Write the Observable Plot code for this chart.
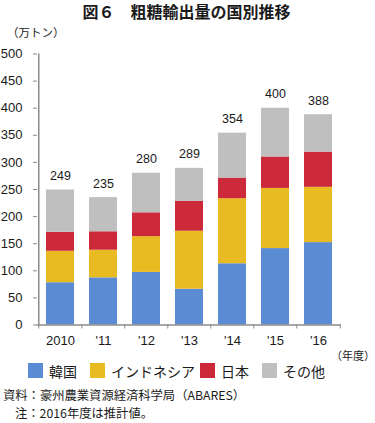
<!DOCTYPE html>
<html><head><meta charset="utf-8">
<script src="https://cdn.jsdelivr.net/npm/d3@7"></script>
<script src="https://cdn.jsdelivr.net/npm/@observablehq/plot@0.6"></script>
<style>
body{margin:0;background:#fff;}
#wrap{position:relative;width:375px;height:423px;overflow:hidden;font-family:"Noto Sans CJK JP",sans-serif;color:#1a1a1a;}
#wrap svg{position:absolute;left:0;top:0;}
.t{position:absolute;white-space:nowrap;line-height:1;}
.sw{position:absolute;width:15px;height:15px;}
</style></head><body><div id="wrap"></div>
<script>
const years = ["2010", "'11", "'12", "'13", "'14", "'15", "'16"];
const series = ["韓国", "インドネシア", "日本", "その他"];
const colors = ["#5a8bd3", "#e9bb22", "#cc2a3a", "#bfbfbf"];
const korea = [78, 87, 97, 66, 113, 141, 152];
const indonesia = [58, 51, 66, 107, 120, 111, 102];
const japan = [35, 34, 44, 55, 38, 58, 65];
const other = [78, 63, 73, 61, 83, 90, 69];
const totals = [249, 235, 280, 289, 354, 400, 388];
const yTicks = [0, 50, 100, 150, 200, 250, 300, 350, 400, 450, 500];

const values = [korea, indonesia, japan, other];
const data = [];
series.forEach((s, i) => years.forEach((y, j) => data.push({year: y, country: s, value: values[i][j]})));

const W = 375, H = 423, mL = 37, mR = 34, mT = 53.5, mB = 98.5;
const step = (W - mL - mR) / years.length;
const axisColor = "#8a8a8a";

const plot = Plot.plot({
  width: W, height: H, marginLeft: mL, marginRight: mR, marginTop: mT, marginBottom: mB,
  style: {fontFamily: "'Liberation Sans', Arial, sans-serif", fontSize: "13px", color: "#1a1a1a", background: "transparent"},
  x: {domain: years, paddingInner: 0.35, paddingOuter: 0.175, label: null},
  y: {domain: [0, 500], label: null},
  color: {domain: series, range: colors},
  marks: [
    Plot.barY(data, {x: "year", y: "value", fill: "country", order: series}),
    Plot.text(years, {x: d => d, y: (d, i) => totals[i], text: (d, i) => String(totals[i]), dy: -14, fontSize: 12.5}),
    Plot.axisY({ticks: yTicks, tickSize: 4, tickPadding: 11, stroke: axisColor, fontSize: 13, label: null}),
    Plot.axisX({tickSize: 0, tickPadding: 11, label: null, fontSize: 13}),
    Plot.axisX({tickSize: 4, tickFormat: () => "", dx: -step / 2, stroke: axisColor, label: null}),
    Plot.axisX({ticks: [years[years.length - 1]], tickSize: 4, tickFormat: () => "", dx: step / 2, stroke: axisColor, label: null}),
    Plot.ruleY([0], {stroke: axisColor, strokeWidth: 1.5}),
    Plot.ruleX([years[0]], {y1: 0, y2: 500, dx: -step / 2, stroke: axisColor, strokeWidth: 1.5})
  ]
});
const wrap = document.getElementById("wrap");
wrap.appendChild(plot);

function addText(txt, x, y, size, extra) {
  const d = document.createElement("div");
  d.className = "t";
  d.textContent = txt;
  d.style.left = x + "px";
  d.style.top = (y - size / 2) + "px";
  d.style.fontSize = size + "px";
  if (extra) Object.assign(d.style, extra);
  wrap.appendChild(d);
  return d;
}
addText("図６　粗糖輸出量の国別推移", 0, 11, 16, {width: "375px", textAlign: "center", fontWeight: "bold", left: "-1px"});
addText("（万トン）", 7, 33, 11.5);
addText("（年度）", 331, 355, 11);

const legX = [28, 90, 200, 262];
const legTextX = [49, 111, 221, 283];
series.forEach((s, i) => {
  const sw = document.createElement("div");
  sw.className = "sw";
  sw.style.left = legX[i] + "px";
  sw.style.top = "363px";
  sw.style.background = colors[i];
  wrap.appendChild(sw);
  addText(s, legTextX[i], 371, 14);
});
addText("資料：豪州農業資源経済科学局（ABARES）", 3, 395, 12.3);
addText("注：2016年度は推計値。", 15, 413, 12.3);
</script>
</body></html>
